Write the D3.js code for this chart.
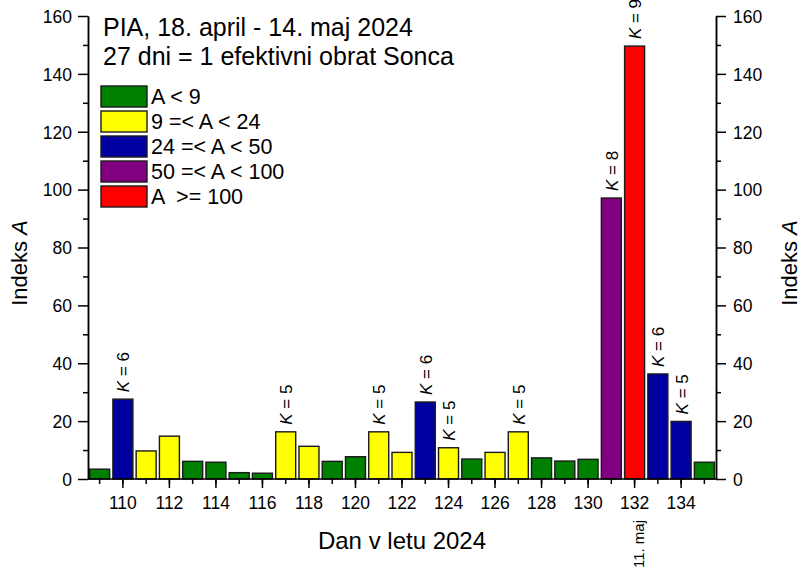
<!DOCTYPE html>
<html>
<head>
<meta charset="utf-8">
<script src="https://cdn.jsdelivr.net/npm/d3@7"></script>
<style>
  html, body { margin: 0; padding: 0; background: #fff; }
  svg { display: block; font-family: "Liberation Sans", Arial, sans-serif; }
  text { white-space: pre; }
</style>
</head>
<body>
<svg id="chart" width="801" height="570"></svg>
<script>
// ---- data ----
const days = [109,110,111,112,113,114,115,116,117,118,119,120,121,122,123,124,125,126,127,128,129,130,131,132,133,134,135];
const values = [3.4,27.6,9.7,14.8,6.1,5.8,2.2,2.0,16.3,11.3,6.1,7.7,16.3,9.2,26.6,10.8,6.9,9.2,16.3,7.3,6.2,6.8,97.1,149.6,36.3,19.9,5.8];
const classes = ["g","b","y","y","g","g","g","g","y","y","g","g","y","y","b","y","g","y","y","g","g","g","p","r","b","b","g"];
const kDays = [110,117,121,123,124,127,131,132,133,134];
const kValues = [6,5,5,6,5,5,8,9,6,5];
const legendKeys = ["g","y","b","p","r"];
const legendLabels = ["A < 9","9 =< A < 24","24 =< A < 50","50 =< A < 100","A  >= 100"];
const legendColors = ["#008000","#ffff00","#0000a0","#800080","#ff0000"];
const yTicksMajor = [0,20,40,60,80,100,120,140,160];
const yTicksMinor = [10,30,50,70,90,110,130,150];
const xTickLabels = [110,112,114,116,118,120,122,124,126,128,130,132,134];
const titleLines = ["PIA, 18. april - 14. maj 2024", "27 dni = 1 efektivni obrat Sonca"];
const dateNote = {day: 132, text: "11. maj"};

// ---- layout ----
const svg = d3.select("#chart");
const L = 88, R = 716, T = 16, B = 479;
const color = d3.scaleOrdinal().domain(legendKeys).range(legendColors);
const x = d3.scaleBand().domain(days).range([L, R]).paddingInner(0.14).paddingOuter(0.07);
const y = d3.scaleLinear().domain([0,160]).range([B, T]);
const FONT_TICK = 17.5;

// bars
svg.append("g").selectAll("rect").data(days).join("rect")
  .attr("x", d => x(d))
  .attr("width", x.bandwidth())
  .attr("y", (d,i) => y(values[i]))
  .attr("height", (d,i) => y(0) - y(values[i]))
  .attr("fill", (d,i) => color(classes[i]))
  .attr("stroke", "#1a1a1a")
  .attr("stroke-width", 1.4);

// K labels
const kg = svg.append("g");
kDays.forEach((d,i) => {
  const v = values[days.indexOf(d)];
  const t = kg.append("text")
    .attr("transform", `translate(${x(d) + x.bandwidth()/2 + 6.5},${y(v) - 7}) rotate(-90)`)
    .attr("font-size", 17)
    .attr("fill", "#000");
  t.append("tspan").attr("font-style", "italic").text("K");
  t.append("tspan").text(" = " + kValues[i]);
});

// axes
function styleAxis(g) {
  g.selectAll("path").attr("stroke", "#000").attr("stroke-width", 1.5);
  g.selectAll("line").attr("stroke", "#000").attr("stroke-width", 1.5);
  g.selectAll("text").attr("font-size", FONT_TICK).attr("fill", "#000")
    .attr("font-family", "Liberation Sans, Arial, sans-serif");
}
// left
svg.append("g").attr("transform", `translate(${L},0)`)
  .call(d3.axisLeft(y).tickValues(yTicksMinor).tickSize(5).tickSizeOuter(0).tickFormat(""))
  .call(styleAxis);
svg.append("g").attr("transform", `translate(${L},0)`)
  .call(d3.axisLeft(y).tickValues(yTicksMajor).tickSize(10).tickSizeOuter(0).tickPadding(6))
  .call(styleAxis)
  .call(g => g.selectAll("text").attr("dy", "0.36em"));
// right
svg.append("g").attr("transform", `translate(${R},0)`)
  .call(d3.axisRight(y).tickValues(yTicksMinor).tickSize(5).tickSizeOuter(0).tickFormat(""))
  .call(styleAxis);
svg.append("g").attr("transform", `translate(${R},0)`)
  .call(d3.axisRight(y).tickValues(yTicksMajor).tickSize(10).tickSizeOuter(0).tickPadding(7))
  .call(styleAxis)
  .call(g => g.selectAll("text").attr("dy", "0.36em"));
// bottom
svg.append("g").attr("transform", `translate(0,${B})`)
  .call(d3.axisBottom(x).tickValues(days).tickSize(5).tickSizeOuter(0).tickFormat(""))
  .call(styleAxis)
  .call(g => g.select("path").attr("d", `M${L},0H${R}`));
svg.append("g").attr("transform", `translate(0,${B})`)
  .call(d3.axisBottom(x).tickValues(xTickLabels).tickSize(9).tickSizeOuter(0))
  .call(styleAxis)
  .call(g => g.select("path").remove())
  .call(g => g.selectAll("text").attr("y", 30).attr("dy", 0));

// date note
svg.append("text")
  .attr("transform", `translate(${x(dateNote.day) + x.bandwidth()/2 + 9},520) rotate(-90)`)
  .attr("text-anchor", "end")
  .attr("font-size", 15)
  .text(dateNote.text);

// axis titles
svg.append("text").attr("x", (L+R)/2).attr("y", 549).attr("text-anchor", "middle")
  .attr("font-size", 24).text("Dan v letu 2024");
function yTitle(tx) {
  const t = svg.append("text")
    .attr("transform", `translate(${tx},263) rotate(-90)`)
    .attr("text-anchor", "middle").attr("font-size", 22);
  t.append("tspan").text("Indeks ");
  t.append("tspan").attr("font-style", "italic").text("A");
}
yTitle(27);
yTitle(797);

// title
svg.append("text").attr("x", 103).attr("y", 36).attr("font-size", 25).text(titleLines[0]);
svg.append("text").attr("x", 103).attr("y", 65).attr("font-size", 25).text(titleLines[1]);

// legend
const lg = svg.append("g");
legendKeys.forEach((k,i) => {
  const yy = 86 + i*25;
  lg.append("rect").attr("x", 101).attr("y", yy).attr("width", 46).attr("height", 21)
    .attr("fill", color(k)).attr("stroke", "#1a1a1a").attr("stroke-width", 1.4);
  lg.append("text").attr("x", 151).attr("y", yy + 18).attr("font-size", 21.5).text(legendLabels[i]);
});
</script>
</body>
</html>
